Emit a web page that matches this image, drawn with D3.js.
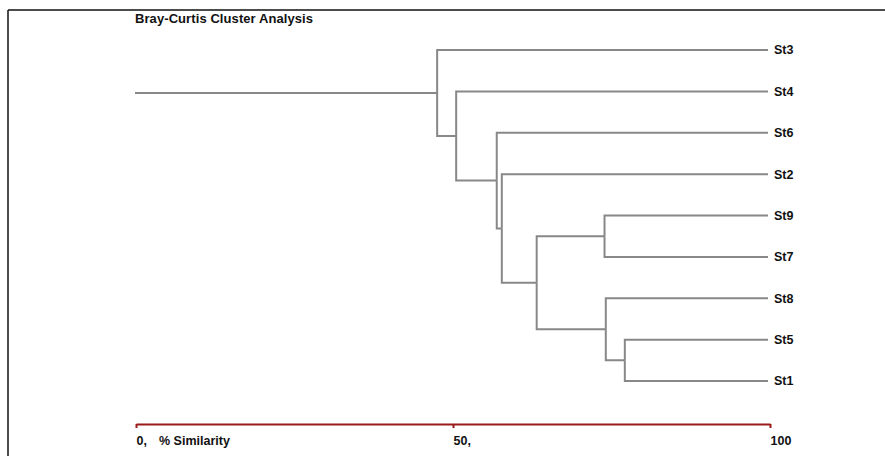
<!DOCTYPE html>
<html>
<head>
<meta charset="utf-8">
<script src="https://cdn.jsdelivr.net/npm/d3@7"></script>
<style>
  body { margin: 0; background: #fff; }
  text { font-family: "Liberation Sans", Arial, sans-serif; font-weight: bold; fill: #111; }
</style>
</head>
<body>
<div id="chart"></div>
<script>
(function() {
  var width = 885,
      height = 456;

  // leaf order top to bottom
  var leaves = ["St3", "St4", "St6", "St2", "St9", "St7", "St8", "St5", "St1"];

  // merges: [id, child a, child b, % similarity]
  var merges = [
    ["m1", "St5", "St1", 77.1],
    ["m2", "St8", "m1", 74.1],
    ["m3", "St9", "St7", 73.9],
    ["m4", "m3", "m2", 63.2],
    ["m5", "St2", "m4", 57.7],
    ["m6", "St6", "m5", 56.9],
    ["m7", "St4", "m6", 50.5],
    ["m8", "St3", "m7", 47.5]
  ];

  var tickValues = [0, 50, 100];
  var tickLabels = ["0,", "50,", "100"];
  var title = "Bray-Curtis Cluster Analysis";

  var svg = d3.select("#chart")
    .append("svg")
    .attr("width", width)
    .attr("height", height);

  // frame: top and left edges only
  svg.append("line").attr("x1", 8).attr("x2", width).attr("y1", 10).attr("y2", 10)
    .attr("stroke", "#111").attr("stroke-width", 1.5);
  svg.append("line").attr("x1", 8).attr("x2", 8).attr("y1", 10).attr("y2", height)
    .attr("stroke", "#111").attr("stroke-width", 1.5);

  svg.append("text")
    .attr("x", 135).attr("y", 23)
    .attr("font-size", "13px")
    .attr("textLength", 178)
    .text(title);

  // build tree from merges
  var nodes = {};
  leaves.forEach(function(name) { nodes[name] = { name: name, sim: 100 }; });
  merges.forEach(function(m) {
    nodes[m[0]] = { name: m[0], sim: m[3], children: [nodes[m[1]], nodes[m[2]]] };
  });
  var root = d3.hierarchy(nodes[merges[merges.length - 1][0]]);

  var x = d3.scaleLinear().domain([0, 100]).range([136, 770]);
  var y = d3.scalePoint().domain(leaves).range([50, 381]);

  // leaf y from scale, internal node y = midpoint of children
  root.eachAfter(function(d) {
    if (!d.children) d.y = y(d.data.name);
    else d.y = d3.mean(d.children, function(c) { return c.y; });
  });

  var g = svg.append("g");

  // root stem
  g.append("line")
    .attr("x1", x(0) - 1).attr("x2", x(root.data.sim))
    .attr("y1", root.y).attr("y2", root.y)
    .attr("stroke", "#888").attr("stroke-width", 2);

  // elbows
  g.selectAll(".link")
    .data(root.links())
    .enter()
    .append("path")
    .attr("class", "link")
    .attr("fill", "none")
    .attr("stroke", "#888")
    .attr("stroke-width", 2)
    .attr("d", function(d) {
      var x1 = x(d.source.data.sim),
          x2 = d.target.children ? x(d.target.data.sim) : x(100) - 2;
      return "M" + x1 + "," + d.source.y + "V" + d.target.y + "H" + x2;
    });

  // leaf labels
  g.selectAll(".leaf")
    .data(root.leaves())
    .enter()
    .append("text")
    .attr("class", "leaf")
    .attr("x", x(100) + 4)
    .attr("y", function(d) { return d.y; })
    .attr("dy", "0.35em")
    .attr("font-size", "12.5px")
    .text(function(d) { return d.data.name; });

  // axis
  var axis = svg.append("g")
    .attr("transform", "translate(0,424)")
    .call(d3.axisBottom(x).tickValues(tickValues).tickSize(4).tickSizeOuter(0).tickFormat(function(d, i) { return tickLabels[i]; }));

  axis.select(".domain").attr("stroke", "#9b1b1b").attr("stroke-width", 2);
  axis.selectAll(".tick line").attr("stroke", "#9b1b1b").attr("stroke-width", 2);
  axis.selectAll(".tick text")
    .attr("text-anchor", "start")
    .attr("y", 12)
    .attr("font-size", "12.5px")
    .attr("font-family", null)
    .attr("fill", "#111");

  svg.append("text")
    .attr("x", 159).attr("y", 445)
    .attr("font-size", "12.5px")
    .text("% Similarity");
})();
</script>
</body>
</html>
